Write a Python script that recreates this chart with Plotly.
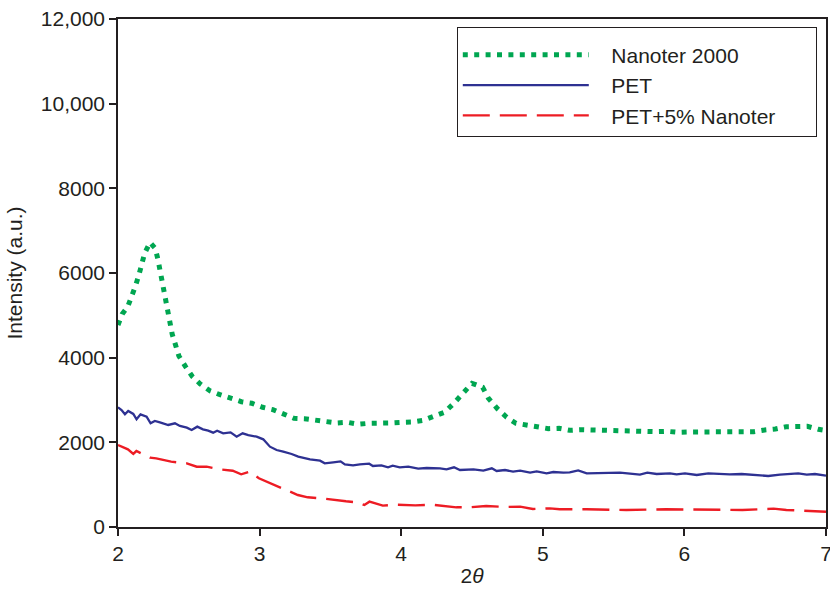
import plotly.graph_objects as go

# Nanoter 2000 (green dotted)
nano_x = [2.0, 2.03, 2.068, 2.10, 2.125, 2.148, 2.167, 2.188, 2.226, 2.263, 2.282, 2.296, 2.308,
          2.324, 2.336, 2.348, 2.364, 2.383, 2.407, 2.430, 2.477, 2.524, 2.581, 2.652, 2.720,
          2.795, 2.871, 2.946, 3.021, 3.094, 3.165, 3.243, 3.316, 3.39, 3.468, 3.543, 3.62,
          3.696, 3.773, 3.85, 3.925, 4.007, 4.08, 4.155, 4.233, 4.306, 4.374, 4.438, 4.50,
          4.575, 4.615, 4.679, 4.745, 4.811, 4.888, 4.966, 5.039, 5.114, 5.19, 5.27, 5.345,
          5.42, 5.498, 5.575, 5.651, 5.729, 5.804, 5.879, 5.955, 6.032, 6.108, 6.183, 6.263,
          6.336, 6.411, 6.489, 6.567, 6.642, 6.72, 6.795, 6.868, 6.946, 7.0]
nano_y = [4772, 5032, 5197, 5450, 5710, 5960, 6213, 6465, 6725, 6583, 6323, 6071, 5811,
          5560, 5315, 5055, 4803, 4551, 4292, 4040, 3787, 3560, 3378, 3213, 3126,
          3055, 2960, 2922, 2828, 2771, 2670, 2568, 2559, 2528, 2473, 2457, 2473,
          2426, 2450, 2441, 2457, 2473, 2480, 2520, 2615, 2709, 2929, 3181, 3394,
          3300, 3047, 2795, 2591, 2450, 2409, 2362, 2323, 2331, 2284, 2299, 2291,
          2276, 2268, 2268, 2252, 2252, 2252, 2260, 2236, 2244, 2244, 2268, 2260,
          2252, 2244, 2252, 2291, 2315, 2370, 2386, 2378, 2307, 2280]

# PET (blue solid)
pet_x = [2.0, 2.025, 2.049, 2.072, 2.108, 2.131, 2.159, 2.202, 2.23, 2.26, 2.296, 2.355,
         2.402, 2.437, 2.486, 2.52, 2.56, 2.6, 2.637, 2.672, 2.70, 2.743, 2.795, 2.838,
         2.88, 2.92, 2.979, 3.026, 3.073, 3.12, 3.167, 3.226, 3.273, 3.32, 3.356, 3.427,
         3.46, 3.52, 3.572, 3.602, 3.66, 3.708, 3.774, 3.80, 3.86, 3.907, 3.94, 3.99,
         4.05, 4.12, 4.18, 4.274, 4.32, 4.373, 4.415, 4.51, 4.58, 4.64, 4.674, 4.733,
         4.79, 4.84, 4.91, 4.957, 5.027, 5.074, 5.145, 5.19, 5.25, 5.31, 5.427, 5.545,
         5.616, 5.686, 5.738, 5.804, 5.898, 5.945, 6.004, 6.087, 6.169, 6.25, 6.32, 6.404,
         6.486, 6.592, 6.675, 6.804, 6.864, 6.922, 7.0]
pet_y = [2827, 2764, 2662, 2740, 2670, 2544, 2662, 2606, 2449, 2504, 2473, 2410,
         2449, 2386, 2346, 2291, 2370, 2307, 2275, 2228, 2275, 2213, 2236, 2133,
         2213, 2173, 2133, 2071, 1897, 1819, 1779, 1725, 1661, 1622, 1599, 1567,
         1504, 1528, 1551, 1480, 1457, 1480, 1496, 1441, 1457, 1410, 1449, 1410,
         1425, 1378, 1394, 1386, 1362, 1410, 1346, 1362, 1330, 1386, 1323, 1346,
         1307, 1330, 1283, 1315, 1268, 1299, 1283, 1291, 1338, 1268, 1283, 1283,
         1260, 1236, 1283, 1252, 1268, 1244, 1268, 1228, 1268, 1252, 1244, 1252,
         1228, 1205, 1236, 1268, 1236, 1252, 1212]

# PET+5% Nanoter (red dashed)
pn_x = [2.0, 2.07, 2.108, 2.13, 2.226, 2.27, 2.375, 2.486, 2.556, 2.626, 2.72, 2.81, 2.87,
        2.93, 2.995, 3.09, 3.18, 3.27, 3.34, 3.435, 3.61, 3.69, 3.74, 3.776, 3.87, 3.96,
        4.1, 4.22, 4.39, 4.48, 4.60, 4.74, 4.84, 4.93, 5.05, 5.12, 5.31, 5.59, 5.87,
        6.18, 6.41, 6.63, 6.72, 7.0]
pn_y = [1937, 1835, 1725, 1795, 1637, 1622, 1543, 1504, 1425, 1425, 1362, 1330, 1244,
        1307, 1150, 1009, 874, 756, 701, 677, 607, 583, 520, 598, 504, 527,
        512, 527, 465, 465, 496, 473, 480, 425, 441, 418, 418, 402, 418,
        418, 402, 433, 402, 362]

y_ticks = [0, 2000, 4000, 6000, 8000, 10000, 12000]
y_labels = ["0", "2000", "4000", "6000", "8000", "10,000", "12,000"]
x_ticks = [2, 3, 4, 5, 6, 7]

PAD = "\u00a0\u00a0\u00a0"
TAIL = "\u00a0" * 6

fig = go.Figure()
fig.add_trace(go.Scatter(x=nano_x, y=nano_y, mode="lines", name=PAD + "Nanoter 2000",
                         legendgroup="a",
                         line=dict(color="#00a651", width=5, dash="5px,6.4px")))
fig.add_trace(go.Scatter(x=pet_x, y=pet_y, mode="lines", name=PAD + "PET",
                         legendgroup="b",
                         line=dict(color="#2e3192", width=2.3)))
fig.add_trace(go.Scatter(x=pn_x, y=pn_y, mode="lines",
                         name=PAD + "PET+5% Nanoter" + TAIL,
                         legendgroup="c",
                         line=dict(color="#ed1c24", width=2.4, dash="27px,10px")))

axis_font = dict(family="Liberation Sans, Arial, sans-serif", size=21, color="#231f20")
fig.update_layout(
    width=830, height=595,
    margin=dict(l=118, r=4, t=19, b=68),
    paper_bgcolor="white", plot_bgcolor="white",
    font=axis_font,
    showlegend=True,
    legend=dict(x=0.987, y=0.984, xanchor="right", yanchor="top",
                bordercolor="#231f20", borderwidth=1, bgcolor="white",
                itemwidth=126, tracegroupgap=0,
                title=dict(text="\u00a0", font=dict(size=5)),
                font=axis_font),
    xaxis=dict(range=[2, 7], tickvals=x_ticks, ticks="outside", ticklen=7, tickwidth=1.5,
               tickcolor="#231f20", showline=True, linecolor="#231f20", linewidth=1.5,
               mirror=True, showgrid=False, zeroline=False, automargin=False,
               ticklabeloverflow="allow",
               title=dict(text="2<i>θ</i>", font=axis_font, standoff=4)),
    yaxis=dict(range=[0, 12000], tickvals=y_ticks, ticktext=y_labels, ticks="outside",
               ticklen=7, tickwidth=1.5, tickcolor="#231f20", showline=True,
               linecolor="#231f20", linewidth=1.5, mirror=True, showgrid=False,
               zeroline=False, automargin=False,
               title=dict(text="Intensity (a.u.)", font=axis_font, standoff=12)),
)

fig.write_html("out.html", config={"displayModeBar": False},
               post_script="document.body.style.margin='0';")
